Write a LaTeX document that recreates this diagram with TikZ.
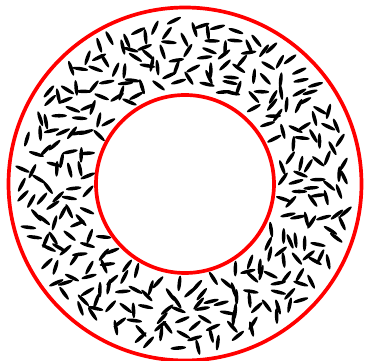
\documentclass[tikz,border=0pt]{standalone}
\begin{document}
\begin{tikzpicture}[x=2mm, y=2mm, line width=2.1pt]
  \useasboundingbox (-18.5,-17.7) rectangle (18,18.4);
  % rods in the ring, on jittered circles
  \pgfmathsetseed{2718}
  \foreach \j in {0,...,7}{
    \pgfmathsetmacro{\rr}{10.0+0.88*\j}
    \pgfmathtruncatemacro{\n}{2*pi*\rr/2.0}
    \pgfmathsetmacro{\dt}{360/\n}
    \foreach \k in {1,...,\n}{
      \pgfmathsetmacro{\r}{\rr+0.6*(rnd-0.5)}
      \pgfmathsetmacro{\t}{\dt*(\k+0.8*(rnd-0.5))+37*\j}
      \pgfmathsetmacro{\a}{180*rnd}
      \fill[shift={(\t:\r)}, rotate=\a] (0,0) ellipse (0.78 and 0.18);
    }
  }
  \draw[red]
   (0,0) circle (17.65)   (0,0) circle (8.9);
\end{tikzpicture}
\end{document}
